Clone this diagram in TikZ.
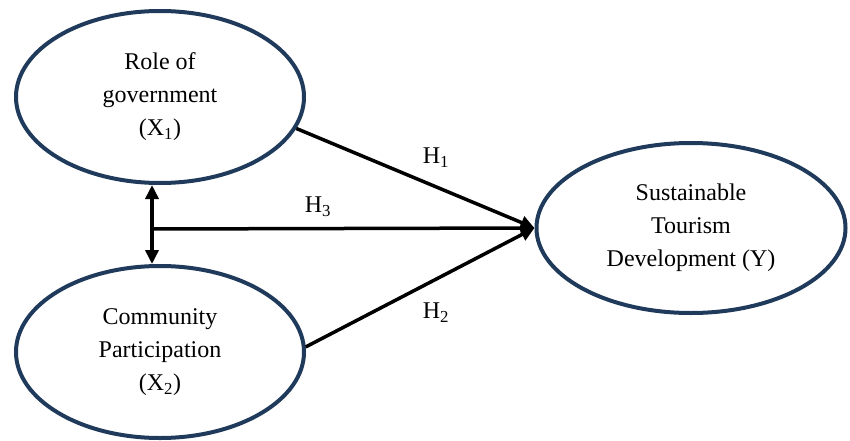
\documentclass[tikz,border=0pt]{standalone}
\usepackage{fontspec}
\setmainfont{Liberation Serif}
\usetikzlibrary{arrows.meta,shapes.geometric}

\definecolor{navy}{HTML}{1F3A5A}

\begin{document}
\begin{tikzpicture}[x=1pt,y=-1pt,
  latent/.style={shape=ellipse, draw=navy, line width=4pt, inner sep=0pt,
    align=center, font=\fontsize{24}{33}\selectfont},
  effect/.style={line width=3.5pt, -{Triangle[length=14pt,width=13pt]}},
  hyp/.style={font=\fontsize{24}{28}\selectfont}]
\useasboundingbox (0,0) rectangle (850,441);

\path (160,97) node (X1) [latent, minimum width=288pt, minimum height=172pt] {Role of\\government\\(X\textsubscript{1})};
\path (160,352) node (X2) [latent, minimum width=288pt, minimum height=172pt] {Community\\Participation\\(X\textsubscript{2})};
\path (691,228) node (Y) [latent, minimum width=309pt, minimum height=170pt] {Sustainable\\Tourism\\Development (Y)};

\coordinate (split) at (152,229);

\draw [effect] (X1.-13) to (Y.west);
\draw [effect] (X2.2) to (Y.west);
\draw [effect] (split) to (Y.west);
\draw [effect, {Triangle[length=14pt,width=13pt]}-{Triangle[length=14pt,width=13pt]}] (split |- X1.south) to (split |- X2.north);

\path (436,158) node (H1) [hyp] {H\textsubscript{1}};
\path (318,207) node (H3) [hyp] {H\textsubscript{3}};
\path (436,313) node (H2) [hyp] {H\textsubscript{2}};

\end{tikzpicture}
\end{document}
